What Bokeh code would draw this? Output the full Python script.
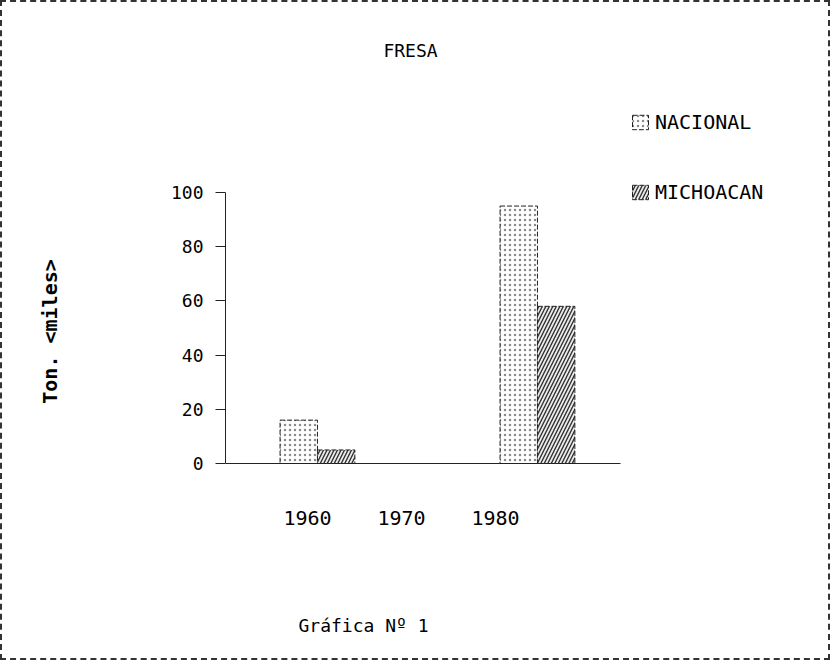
from bokeh.plotting import figure
from bokeh.models import (ColumnDataSource, Range1d, LinearAxis, FixedTicker,
                          Legend, LegendItem, Label, InlineStyleSheet)
from bokeh.embed import file_html
from bokeh.resources import INLINE

# ---- data ----
years = [1960, 1970, 1980]
nacional = [16, 0, 95]
michoacan = [5, 0, 58]
y_ticks = [0, 20, 40, 60, 80, 100]
x_ticks = [1960, 1970, 1980]
series_names = ["NACIONAL", "MICHOACAN"]
title_text = "FRESA"
y_label = "Ton. <miles>"
caption = "Gráfica Nº 1"

FONT = "DejaVu Sans Mono"
W, H = 830, 660
OFF = 2                              # border width shifts the canvas
L, R, T, B = 225 - OFF, 822 - OFF, 12 - OFF, 650 - OFF   # plot frame (canvas px)
ZERO = 463 - OFF                     # canvas row of value 0
PX_PER_YEAR = 11.0
PX_PER_UNIT = 2.71
X0 = 1951.64
X1 = X0 + (R - L) / PX_PER_YEAR
Y0 = -(B - ZERO) / PX_PER_UNIT
Y1 = (ZERO - T) / PX_PER_UNIT
LX0 = 1951.28                       # range used for the category labels
LPX = 9.4
LX1 = LX0 + (R - L) / LPX

def lx(page_px):
    return LX0 + (page_px - OFF - L) / LPX

def cx(page_px):
    return X0 + (page_px - OFF - L) / PX_PER_YEAR

def cy(page_py):
    return (ZERO - (page_py - OFF)) / PX_PER_UNIT

p = figure(width=W, height=H, output_backend="svg", toolbar_location=None,
           x_range=Range1d(X0, X1), y_range=Range1d(Y0, Y1),
           min_border_left=L, min_border_right=W - R,
           min_border_top=T, min_border_bottom=H - B,
           x_axis_location=None)
p.extra_x_ranges = {"labels": Range1d(LX0, LX1)}
p.background_fill_color = "white"
p.border_fill_color = "white"
p.outline_line_color = None
p.grid.visible = False
p.stylesheets = [InlineStyleSheet(css=":host { border: 2px dashed #333333; }")]

bw = 3.4
src = ColumnDataSource(dict(
    x_n=[y - bw / 2 for y in years],
    x_m=[y + bw / 2 for y in years],
    nac=nacional, mich=michoacan))

r_n = p.vbar(x="x_n", top="nac", bottom=0, width=bw, source=src,
             fill_color="white", hatch_pattern=".", hatch_color="#8a8a8a",
             hatch_scale=5, hatch_weight=1.0,
             line_color="#222222", line_width=1, line_dash="5 2")
r_m = p.vbar(x="x_m", top="mich", bottom=0, width=bw, source=src,
             fill_color="#ececec", hatch_pattern="/", hatch_color="#333333",
             hatch_scale=7, hatch_weight=1.4,
             line_color="#222222", line_width=1, line_dash="5 2")

# y axis
ya = p.yaxis[0]
ya.ticker = FixedTicker(ticks=y_ticks)
ya.bounds = (y_ticks[0], y_ticks[-1])
ya.major_tick_out = 10
ya.major_tick_in = 0
ya.minor_tick_line_color = None
ya.axis_line_color = "#222222"
ya.major_tick_line_color = "#222222"
ya.major_label_text_font = FONT
ya.major_label_text_font_size = "18px"
ya.major_label_text_color = "black"
ya.major_label_standoff = 12
ya.axis_label = y_label
ya.axis_label_text_font = FONT
ya.axis_label_text_font_size = "20px"
ya.axis_label_text_font_style = "bold"
ya.axis_label_text_color = "black"
ya.axis_label_standoff = 106

# x axis (category labels), drawn at value 0
xa = LinearAxis(x_range_name="labels", ticker=FixedTicker(ticks=x_ticks),
                fixed_location=0)
xa.bounds = (LX0, lx(620))
xa.major_tick_line_color = None
xa.minor_tick_line_color = None
xa.axis_line_color = "#222222"
xa.major_label_text_font = FONT
xa.major_label_text_font_size = "20px"
xa.major_label_text_color = "black"
xa.major_label_standoff = 41
p.add_layout(xa, "below")

# legend (inside the frame, top right)
legend = Legend(items=[LegendItem(label=series_names[0], renderers=[r_n]),
                       LegendItem(label=series_names[1], renderers=[r_m])],
                location=(405, 446), orientation="vertical",
                label_text_font=FONT, label_text_font_size="20px",
                label_text_color="black", glyph_width=20, glyph_height=18,
                spacing=46, border_line_color=None, background_fill_alpha=0)
p.add_layout(legend, "center")

# title and caption
p.add_layout(Label(x=cx(410), y=cy(50), text=title_text, text_align="center",
                   text_baseline="middle", text_font=FONT,
                   text_font_size="18px", text_color="black"))
p.add_layout(Label(x=cx(363), y=cy(625), text=caption, text_align="center",
                   text_baseline="middle", text_font=FONT,
                   text_font_size="18px", text_color="black"))

open("out.html", "w").write(file_html(p, INLINE))
